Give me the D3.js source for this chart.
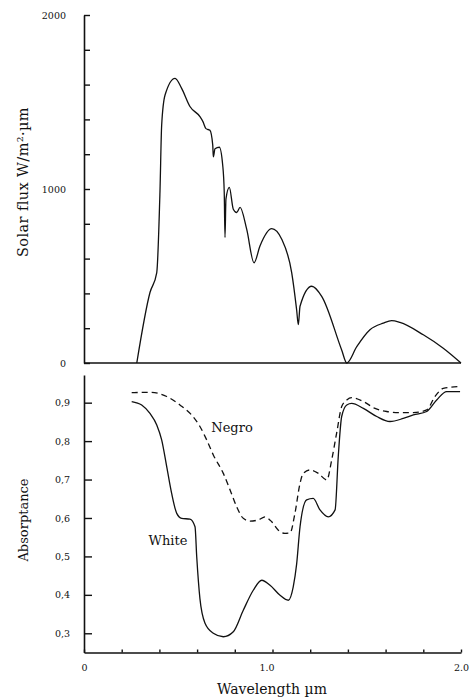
<!DOCTYPE html>
<html>
<head>
<meta charset="utf-8">
<script src="https://cdn.jsdelivr.net/npm/d3@7/dist/d3.min.js"></script>
<style>
  body { margin: 0; background: #fff; }
  svg text { font-family: "DejaVu Serif", "Liberation Serif", serif; fill: #111; }
</style>
</head>
<body>
<div id="chart"></div>
<script>
// solar spectrum (top) and skin absorptance (bottom)
var fluxWave = [0.28, 0.35, 0.386, 0.403, 0.412, 0.43, 0.483, 0.518, 0.562, 0.615, 0.631, 0.647, 0.668, 0.683, 0.686, 0.695, 0.718, 0.736, 0.744, 0.748, 0.753, 0.771, 0.792, 0.81, 0.828, 0.863, 0.902, 0.934, 0.996, 1.049, 1.102, 1.128, 1.137, 1.146, 1.208, 1.261, 1.367, 1.394, 1.447, 1.517, 1.588, 1.632, 1.676, 1.80, 1.906, 2.0]
var fluxValue = [0, 405, 520, 983, 1366, 1540, 1636, 1578, 1474, 1416, 1387, 1347, 1337, 1252, 1185, 1231, 1240, 1135, 980, 722, 942, 1009, 884, 865, 894, 769, 576, 674, 772, 711, 518, 306, 220, 326, 441, 383, 75, 0, 94, 191, 229, 243, 233, 162, 85, 0]

var whiteWave = [0.253, 0.306, 0.35, 0.386, 0.412, 0.439, 0.465, 0.492, 0.518, 0.562, 0.589, 0.598, 0.615, 0.642, 0.686, 0.739, 0.792, 0.845, 0.898, 0.943, 0.987, 1.04, 1.084, 1.11, 1.128, 1.146, 1.181, 1.216, 1.252, 1.296, 1.332, 1.349, 1.367, 1.394, 1.42, 1.482, 1.553, 1.623, 1.694, 1.747, 1.818, 1.871, 1.924, 1.995]
var whiteValue = [0.903, 0.894, 0.872, 0.842, 0.803, 0.733, 0.664, 0.612, 0.599, 0.597, 0.577, 0.499, 0.39, 0.326, 0.300, 0.291, 0.304, 0.360, 0.412, 0.438, 0.425, 0.399, 0.386, 0.421, 0.48, 0.577, 0.647, 0.651, 0.621, 0.603, 0.621, 0.761, 0.864, 0.894, 0.898, 0.885, 0.864, 0.851, 0.859, 0.868, 0.877, 0.907, 0.929, 0.929]

var negroWave = [0.253, 0.35, 0.439, 0.509, 0.571, 0.615, 0.651, 0.686, 0.739, 0.775, 0.81, 0.845, 0.881, 0.925, 0.96, 0.996, 1.031, 1.066, 1.093, 1.119, 1.146, 1.163, 1.199, 1.243, 1.288, 1.314, 1.34, 1.367, 1.394, 1.42, 1.482, 1.544, 1.606, 1.676, 1.747, 1.818, 1.862, 1.906, 1.995]
var negroValue = [0.926, 0.927, 0.916, 0.894, 0.868, 0.838, 0.803, 0.764, 0.716, 0.673, 0.629, 0.599, 0.592, 0.595, 0.603, 0.590, 0.568, 0.560, 0.561, 0.612, 0.690, 0.716, 0.725, 0.716, 0.699, 0.751, 0.820, 0.890, 0.907, 0.913, 0.903, 0.885, 0.877, 0.874, 0.874, 0.881, 0.916, 0.937, 0.942]

var fluxTicks = [0, 200, 400, 600, 800, 1000, 1200, 1400, 1600, 1800, 2000]
var fluxTickLabels = {0: "0", 1000: "1000", 2000: "2000"}
var absTicks = [0.3, 0.4, 0.5, 0.6, 0.7, 0.8, 0.9]
var absTickLabels = ["0,3", "0,4", "0,5", "0,6", "0,7", "0,8", "0,9"]
var waveTicks = [0, 0.2, 0.4, 0.6, 0.8, 1.0, 1.2, 1.4, 1.6, 1.8, 2.0]
var waveTickLabels = {0: "0", 1: "1.0", 2: "2.0"}

var width = 469, height = 700

var svg = d3.select('#chart').append('svg')
	.attr('width', width)
	.attr('height', height)

var x = d3.scaleLinear().domain([0, 2]).range([84, 461])
var yFlux = d3.scaleLinear().domain([0, 2000]).range([363, 15])
var yAbs = d3.scaleLinear().domain([0.25, 0.972]).range([652.5, 375])

// ---- top panel axes
var fluxAxis = d3.axisLeft(yFlux)
	.tickValues(fluxTicks)
	.tickSizeInner(-6)
	.tickSizeOuter(0)
	.tickPadding(18)
	.tickFormat(function(d){ return fluxTickLabels[d] || ''; })

svg.append('g')
	.attr('transform', 'translate(' + x(0) + ',0)')
	.call(fluxAxis)

svg.append('line')
	.attr('x1', x(0)).attr('x2', x(2))
	.attr('y1', yFlux(0)).attr('y2', yFlux(0))
	.attr('stroke', '#111').attr('stroke-width', 1.6)

// ---- bottom panel axes
var absAxis = d3.axisLeft(yAbs)
	.tickValues(absTicks)
	.tickSizeInner(-8)
	.tickSizeOuter(0)
	.tickPadding(14)
	.tickFormat(function(d, i){ return absTickLabels[i]; })

svg.append('g')
	.attr('transform', 'translate(' + x(0) + ',0)')
	.call(absAxis)

var waveAxis = d3.axisBottom(x)
	.tickValues(waveTicks)
	.tickSizeInner(-3)
	.tickSizeOuter(0)
	.tickPadding(12)
	.tickFormat(function(d){ return waveTickLabels[d] || ''; })

svg.append('g')
	.attr('class', 'wave-axis')
	.attr('transform', 'translate(0,' + yAbs(0.25) + ')')
	.call(waveAxis)

svg.selectAll('.tick text').attr('font-size', 9.5)
svg.selectAll('.domain').attr('stroke', '#111').attr('stroke-width', 1.6)
svg.selectAll('.tick line').attr('stroke', '#111').attr('stroke-width', 1.4)
svg.selectAll('.wave-axis .tick text')
	.attr('dx', function(d){ return d === 1 ? -6 : 0; })

// ---- curves
var fluxLine = d3.line()
	.x(function(d){ return x(d[0]); })
	.y(function(d){ return yFlux(d[1]); })
	.curve(d3.curveMonotoneX)

svg.append('path')
	.datum(d3.zip(fluxWave, fluxValue))
	.attr('d', fluxLine)
	.attr('fill', 'none')
	.attr('stroke', '#111')
	.attr('stroke-width', 1.3)

var absLine = d3.line()
	.x(function(d){ return x(d[0]); })
	.y(function(d){ return yAbs(d[1]); })
	.curve(d3.curveMonotoneX)

svg.append('path')
	.datum(d3.zip(whiteWave, whiteValue))
	.attr('d', absLine)
	.attr('fill', 'none')
	.attr('stroke', '#111')
	.attr('stroke-width', 1.3)

svg.append('path')
	.datum(d3.zip(negroWave, negroValue))
	.attr('d', absLine)
	.attr('fill', 'none')
	.attr('stroke', '#111')
	.attr('stroke-width', 1.3)
	.attr('stroke-dasharray', '6,4')

// ---- labels
svg.append('text')
	.attr('x', 232).attr('y', 432)
	.attr('text-anchor', 'middle')
	.attr('font-size', 13)
	.text('Negro')

svg.append('text')
	.attr('x', 168).attr('y', 545)
	.attr('text-anchor', 'middle')
	.attr('font-size', 13)
	.text('White')

svg.append('text')
	.attr('transform', 'translate(28,182) rotate(-90)')
	.attr('text-anchor', 'middle')
	.attr('font-size', 14.5)
	.attr('letter-spacing', 0.4)
	.text('Solar flux W/m²·µm')

svg.append('text')
	.attr('transform', 'translate(28,520) rotate(-90)')
	.attr('text-anchor', 'middle')
	.attr('font-size', 13)
	.text('Absorptance')

svg.append('text')
	.attr('x', 272).attr('y', 694)
	.attr('text-anchor', 'middle')
	.attr('font-size', 14)
	.text('Wavelength µm')
</script>
</body>
</html>
